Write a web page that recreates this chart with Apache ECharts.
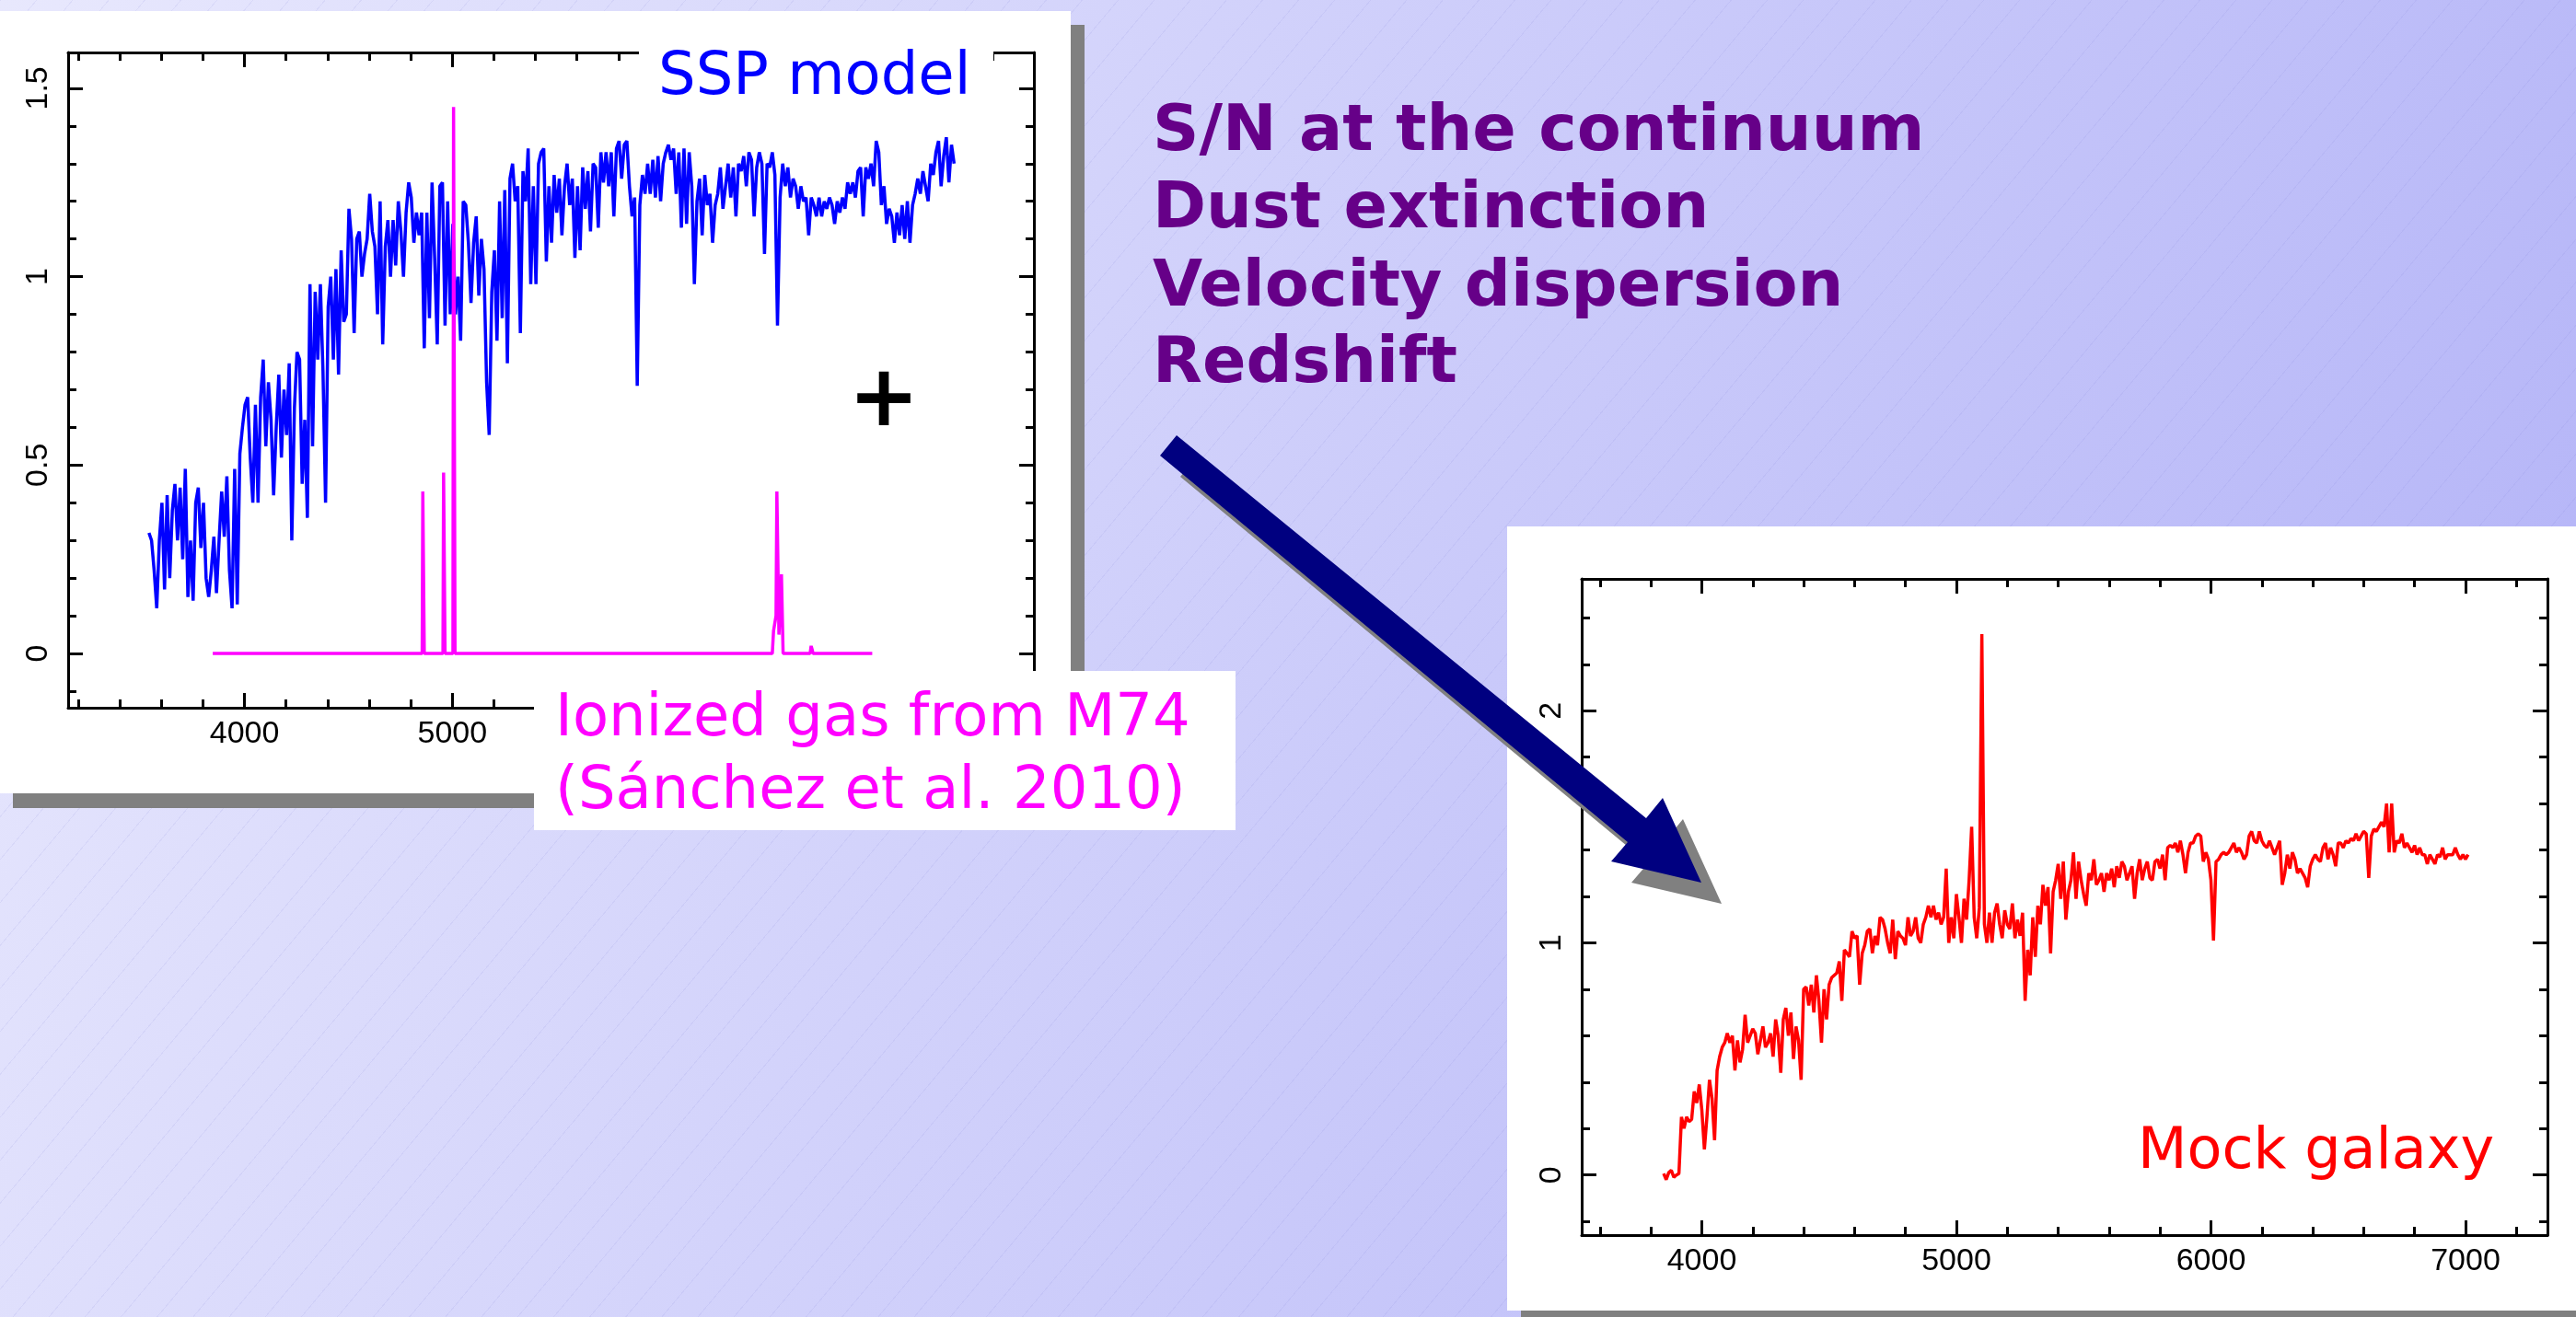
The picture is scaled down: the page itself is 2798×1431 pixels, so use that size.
<!DOCTYPE html>
<html>
<head>
<meta charset="utf-8">
<script src="https://cdn.jsdelivr.net/npm/echarts@6/dist/echarts.min.js"></script>
<style>
html,body{margin:0;padding:0;}
#c{width:2798px;height:1431px;
background:
 repeating-linear-gradient(130deg, rgba(120,120,210,0.10) 0px, rgba(120,120,210,0.10) 1px, rgba(0,0,0,0) 1px, rgba(0,0,0,0) 30px),
 linear-gradient(110deg, #e8e8fd 0%, #d2d2fb 40%, #b2b2f7 100%);}
</style>
</head>
<body>
<div id="c"></div>
<script>
// ---------- DATA ----------
// SSP model spectrum (blue), sampled every 12.5 A starting at 3540 A
const sspStart = 3540, sspStep = 12.5;
const sspFlux = [
0.32,0.30,0.22,0.12,0.30,0.40,0.17,0.42,
0.20,0.38,0.45,0.30,0.44,0.25,0.49,0.15,
0.30,0.14,0.40,0.44,0.28,0.40,0.20,0.15,
0.22,0.31,0.16,0.30,0.43,0.31,0.47,0.22,
0.12,0.49,0.13,0.53,0.60,0.66,0.68,0.52,
0.40,0.66,0.40,0.68,0.78,0.55,0.72,0.62,
0.42,0.60,0.74,0.52,0.70,0.58,0.77,0.30,
0.65,0.80,0.78,0.45,0.62,0.36,0.98,0.55,
0.96,0.78,0.98,0.75,0.40,0.92,1.00,0.78,
1.02,0.74,1.07,0.88,0.90,1.18,1.10,0.85,
1.10,1.12,1.00,1.06,1.10,1.22,1.12,1.08,
0.90,1.20,0.82,1.08,1.15,1.00,1.15,1.03,
1.20,1.12,1.00,1.17,1.25,1.21,1.09,1.17,
1.11,1.17,0.81,1.17,0.89,1.25,1.05,0.82,
1.24,1.25,0.87,1.20,0.90,1.14,0.90,1.00,
0.83,1.20,1.19,1.09,0.93,1.09,1.16,0.95,
1.10,1.02,0.72,0.58,0.96,1.07,0.83,1.20,
0.89,1.23,0.77,1.26,1.30,1.20,1.24,0.85,
1.28,1.20,1.34,0.98,1.24,0.98,1.30,1.33,
1.34,1.04,1.24,1.09,1.27,1.17,1.26,1.11,
1.24,1.30,1.19,1.26,1.05,1.24,1.07,1.29,
1.18,1.28,1.12,1.30,1.29,1.13,1.33,1.25,
1.33,1.24,1.33,1.16,1.34,1.36,1.26,1.35,
1.36,1.24,1.16,1.21,0.71,1.19,1.27,1.22,
1.30,1.22,1.31,1.21,1.32,1.20,1.30,1.33,
1.35,1.31,1.34,1.22,1.33,1.13,1.34,1.14,
1.33,1.24,0.98,1.20,1.26,1.11,1.27,1.19,
1.22,1.09,1.19,1.22,1.29,1.18,1.24,1.30,
1.21,1.29,1.16,1.30,1.28,1.32,1.24,1.33,
1.31,1.16,1.29,1.33,1.30,1.06,1.30,1.29,
1.33,1.27,0.87,1.21,1.30,1.24,1.29,1.21,
1.26,1.24,1.18,1.24,1.20,1.21,1.11,1.21,
1.19,1.16,1.21,1.16,1.20,1.18,1.21,1.19,
1.14,1.20,1.17,1.21,1.18,1.25,1.22,1.25,
1.21,1.28,1.29,1.16,1.29,1.26,1.30,1.24,
1.36,1.33,1.19,1.24,1.14,1.18,1.16,1.09,
1.17,1.11,1.19,1.10,1.20,1.09,1.19,1.22,
1.26,1.22,1.28,1.24,1.20,1.30,1.27,1.33,
1.36,1.24,1.32,1.37,1.25,1.35,1.30
];

// Ionized gas (M74) emission-line spectrum (magenta)
const gasLambda = [3847,4855,4858,4862,4865,4955,4958,4962,4965,5003,5006,5010,5013,
  6540,6546,6552,6558,6562,6568,6572,6580,6584,6588,6592,6722,6727,6732,6736,7021];
const gasFlux   = [0,0,0.43,0.43,0,0,0.48,0.48,0,0,1.45,1.45,0,
  0,0.06,0.08,0.10,0.43,0.43,0.05,0.05,0.21,0.21,0,0,0.02,0.01,0,0];

// Mock galaxy spectrum (red), sampled every 10 A starting at 3850 A
const mockStart = 3850, mockStep = 10;
const mockFlux = [
0.006,-0.02,0.01,0.02,-0.01,0.0,0.006,0.25,0.20,0.25,
0.23,0.24,0.36,0.31,0.39,0.28,0.11,0.25,0.41,0.33,
0.15,0.45,0.51,0.55,0.57,0.61,0.57,0.60,0.45,0.58,
0.485,0.54,0.69,0.57,0.60,0.63,0.61,0.52,0.58,0.64,
0.55,0.57,0.61,0.51,0.67,0.60,0.44,0.67,0.72,0.60,
0.70,0.50,0.64,0.58,0.41,0.80,0.81,0.73,0.82,0.70,
0.86,0.75,0.57,0.80,0.67,0.82,0.85,0.86,0.87,0.92,
0.75,0.97,0.955,0.94,1.05,1.02,1.03,0.82,0.955,0.99,
1.05,1.06,0.955,1.03,0.99,1.11,1.10,1.06,1.00,0.955,
1.10,0.93,1.05,1.03,1.02,0.99,1.11,1.03,1.05,1.11,
1.02,1.00,1.08,1.11,1.16,1.11,1.16,1.10,1.13,1.08,
1.11,1.32,1.00,1.11,1.02,1.21,1.11,1.00,1.19,1.10,
1.27,1.50,1.11,1.02,1.15,2.33,1.08,1.00,1.13,1.00,
1.13,1.17,1.08,1.02,1.14,1.08,1.06,1.17,1.02,1.10,
1.03,1.13,0.75,0.97,0.86,1.11,0.94,1.16,1.08,1.25,
1.16,1.24,0.955,1.22,1.27,1.34,1.19,1.35,1.10,1.22,
1.27,1.39,1.19,1.35,1.27,1.21,1.16,1.30,1.27,1.36,
1.25,1.27,1.30,1.22,1.30,1.27,1.32,1.24,1.33,1.28,
1.35,1.33,1.27,1.30,1.33,1.19,1.30,1.36,1.27,1.32,
1.35,1.28,1.27,1.35,1.36,1.32,1.38,1.27,1.41,1.42,
1.41,1.43,1.39,1.44,1.38,1.30,1.39,1.43,1.43,1.46,
1.47,1.46,1.35,1.39,1.36,1.27,1.01,1.35,1.36,1.38,
1.39,1.38,1.39,1.41,1.43,1.39,1.41,1.39,1.36,1.38,
1.46,1.48,1.44,1.43,1.48,1.44,1.42,1.41,1.44,1.41,
1.38,1.41,1.44,1.25,1.30,1.38,1.32,1.39,1.36,1.30,
1.32,1.30,1.28,1.24,1.33,1.36,1.38,1.36,1.35,1.41,
1.43,1.36,1.41,1.38,1.33,1.43,1.43,1.41,1.44,1.43,
1.45,1.44,1.47,1.44,1.46,1.48,1.47,1.28,1.46,1.49,
1.48,1.50,1.52,1.50,1.60,1.39,1.60,1.39,1.44,1.43,
1.47,1.41,1.43,1.41,1.39,1.42,1.38,1.41,1.38,1.38,
1.34,1.38,1.36,1.34,1.38,1.37,1.41,1.36,1.38,1.38,
1.38,1.41,1.38,1.36,1.38,1.36,1.38
];

// Tick values
const leftXMajor = [4000,5000,6000,7000];
const leftXMinor = [3200,3400,3600,3800,4200,4400,4600,4800,5200,5400,5600,5800,6200,6400,6600,6800,7200,7400,7600];
const leftYMajor = [0,0.5,1,1.5];
const leftYMinor = [-0.1,0.1,0.2,0.3,0.4,0.6,0.7,0.8,0.9,1.1,1.2,1.3,1.4];
const rightXMajor = [4000,5000,6000,7000];
const rightXMinor = [3600,3800,4200,4400,4600,4800,5200,5400,5600,5800,6200,6400,6600,6800,7200];
const rightYMajor = [0,1,2];
const rightYMinor = [-0.2,0.2,0.4,0.6,0.8,1.2,1.4,1.6,1.8,2.2,2.4];

// Texts
const textSSP = 'SSP model';
const textGas = ['Ionized gas from M74', '(Sánchez et al. 2010)'];
const textMock = 'Mock galaxy';
const textParams = ['S/N at the continuum', 'Dust extinction', 'Velocity dispersion', 'Redshift'];

// ---------- CHART ----------
const sspData = sspFlux.map((f, i) => [sspStart + i * sspStep, f]);
const gasData = gasLambda.map((l, i) => [l, gasFlux[i]]);
const mockData = mockFlux.map((f, i) => [mockStart + i * mockStep, f]);

const labelFont = {fontFamily: 'Liberation Sans, Arial, sans-serif', fontSize: 34, color: '#000'};
function ax(kind, grid, min, max, pos, ticks, len, showLine, labels, rot) {
  return {
    type: 'value', gridIndex: grid, min: min, max: max, position: pos,
    axisLine: {show: showLine, onZero: false, lineStyle: {color: '#000', width: 3}},
    axisTick: {show: true, inside: true, length: len, customValues: ticks, lineStyle: {color: '#000', width: 3}},
    axisLabel: labels ? Object.assign({show: true, customValues: labels, margin: kind === 'x' ? 12 : 15,
      rotate: rot || 0, formatter: v => String(v)}, labelFont) : {show: false},
    splitLine: {show: false}, minorTick: {show: false}, minorSplitLine: {show: false}
  };
}
const L = {xmin: 3151, xmax: 7799, ymin: -0.144, ymax: 1.595};
const R = {xmin: 3528, xmax: 7322, ymin: -0.259, ymax: 2.568};

const xAxes = [
  ax('x', 0, L.xmin, L.xmax, 'bottom', leftXMajor, 16, true, leftXMajor),
  ax('x', 0, L.xmin, L.xmax, 'bottom', leftXMinor, 9, false),
  ax('x', 0, L.xmin, L.xmax, 'top', leftXMajor, 16, true),
  ax('x', 0, L.xmin, L.xmax, 'top', leftXMinor, 9, false),
  ax('x', 1, R.xmin, R.xmax, 'bottom', rightXMajor, 16, true, rightXMajor),
  ax('x', 1, R.xmin, R.xmax, 'bottom', rightXMinor, 9, false),
  ax('x', 1, R.xmin, R.xmax, 'top', rightXMajor, 16, true),
  ax('x', 1, R.xmin, R.xmax, 'top', rightXMinor, 9, false)
];
const yAxes = [
  ax('y', 0, L.ymin, L.ymax, 'left', leftYMajor, 16, true, leftYMajor, 90),
  ax('y', 0, L.ymin, L.ymax, 'left', leftYMinor, 9, false),
  ax('y', 0, L.ymin, L.ymax, 'right', leftYMajor, 16, true),
  ax('y', 0, L.ymin, L.ymax, 'right', leftYMinor, 9, false),
  ax('y', 1, R.ymin, R.ymax, 'left', rightYMajor, 16, true, rightYMajor, 90),
  ax('y', 1, R.ymin, R.ymax, 'left', rightYMinor, 9, false),
  ax('y', 1, R.ymin, R.ymax, 'right', rightYMajor, 16, true),
  ax('y', 1, R.ymin, R.ymax, 'right', rightYMinor, 9, false)
];

const arrowPts = [[1278,473],[1788,889],[1806,867],[1848,959],[1750,936],[1768,915],[1260,495]];
const arrowShadow = arrowPts.map(p => [p[0] + 22, p[1] + 23]);

const F = '"DejaVu Sans", Verdana, sans-serif';
function txt(s, x, y, size, color, bold, z, align) {
  return {type: 'text', x: x, y: y, z: z || 51,
    style: {text: s, fill: color, font: (bold ? 'bold ' : '') + size + 'px ' + F,
      textAlign: align || 'left', textVerticalAlign: 'middle', verticalAlign: 'middle'}};
}

const graphics = [
  {type: 'rect', z: -20, shape: {x: 14, y: 27, width: 1164, height: 851}, style: {fill: '#808080'}},
  {type: 'rect', z: -10, shape: {x: 0, y: 12, width: 1163, height: 850}, style: {fill: '#ffffff'}},
  {type: 'rect', z: -20, shape: {x: 1652, y: 587, width: 1160, height: 852}, style: {fill: '#808080'}},
  {type: 'rect', z: -10, shape: {x: 1637, y: 572, width: 1161, height: 852}, style: {fill: '#ffffff'}},
  {type: 'rect', z: 50, shape: {x: 694, y: 38, width: 385, height: 86}, style: {fill: '#ffffff'}},
  txt(textSSP, 715, 85, 64, '#0000ff'),
  {type: 'rect', z: 50, shape: {x: 580, y: 729, width: 762, height: 173}, style: {fill: '#ffffff'}},
  txt(textGas[0], 603, 782, 64, '#ff00ff'),
  txt(textGas[1], 603, 861, 64, '#ff00ff'),
  txt(textMock, 2322, 1253, 62, '#ff0000'),
  txt(textParams[0], 1252, 145, 70, '#660088', true),
  txt(textParams[1], 1252, 229, 70, '#660088', true),
  txt(textParams[2], 1252, 314, 70, '#660088', true),
  txt(textParams[3], 1252, 397, 70, '#660088', true),
  txt('+', 960, 438, 92, '#000000', true, 51, 'center'),
  {type: 'polygon', z: 60, shape: {points: arrowShadow}, style: {fill: '#808080'}},
  {type: 'polygon', z: 61, shape: {points: arrowPts}, style: {fill: '#000080'}}
];

const chart = echarts.init(document.getElementById('c'), null, {renderer: 'canvas'});
chart.setOption({
  animation: false,
  backgroundColor: 'transparent',
  grid: [
    {left: 74, top: 57, width: 1049, height: 712, show: false},
    {left: 1718, top: 629, width: 1049, height: 713, show: false}
  ],
  xAxis: xAxes,
  yAxis: yAxes,
  series: [
    {type: 'line', xAxisIndex: 0, yAxisIndex: 0, data: sspData, showSymbol: false, symbol: 'none',
     lineStyle: {color: '#0000ff', width: 3.5}, z: 3},
    {type: 'line', xAxisIndex: 0, yAxisIndex: 0, data: gasData, showSymbol: false, symbol: 'none',
     lineStyle: {color: '#ff00ff', width: 3.5}, z: 4},
    {type: 'line', xAxisIndex: 4, yAxisIndex: 4, data: mockData, showSymbol: false, symbol: 'none',
     lineStyle: {color: '#ff0000', width: 3.5}, z: 3}
  ],
  graphic: {elements: graphics}
});
</script>
</body>
</html>
